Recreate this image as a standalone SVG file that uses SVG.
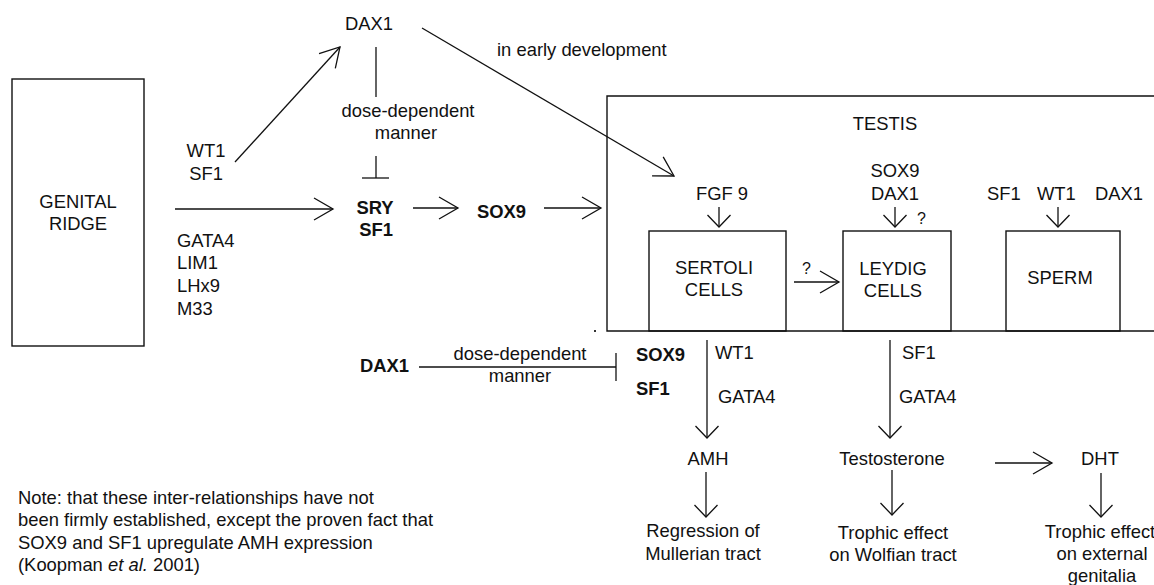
<svg xmlns="http://www.w3.org/2000/svg" width="1154" height="585" viewBox="0 0 1154 585">
<style>
text{font-family:"Liberation Sans",Arial,sans-serif;font-size:18.4px;fill:#111}
.b{font-weight:bold}
.m{text-anchor:middle}
.q{font-size:16px}
.box{fill:none;stroke:#111;stroke-width:1.4}
.ln{fill:none;stroke:#111;stroke-width:1.3}
.a{marker-end:url(#big)}
.s{marker-end:url(#sm)}
</style>
<defs>
<marker id="big" markerUnits="userSpaceOnUse" viewBox="-22 -14 24 28" refX="0" refY="0" markerWidth="24" markerHeight="28" orient="auto" overflow="visible">
<path d="M-19,-11 L0,0 L-19,11" fill="none" stroke="#111" stroke-width="1.3"/>
</marker>
<marker id="sm" markerUnits="userSpaceOnUse" viewBox="-15 -14 17 28" refX="0" refY="0" markerWidth="17" markerHeight="28" orient="auto" overflow="visible">
<path d="M-12,-11.5 L0,0 L-12,11.5" fill="none" stroke="#111" stroke-width="1.3"/>
</marker>
</defs>
<rect width="1154" height="585" fill="#fff"/>

<g id="genital-ridge">
<rect class="box" x="12" y="79" width="132" height="267"/>
<text class="m" x="78" y="208">GENITAL</text>
<text class="m" x="78" y="229.5">RIDGE</text>
</g>
<g id="wt1-sf1"><text class="m" x="206" y="157">WT1</text><text class="m" x="206" y="180">SF1</text></g>
<g id="factors">
<text x="177" y="247">GATA4</text><text x="177" y="269">LIM1</text><text x="177" y="292">LHx9</text><text x="177" y="315">M33</text>
</g>
<g id="dax1-top"><text x="345" y="30">DAX1</text></g>
<g id="dose-top"><text class="m" x="408" y="117">dose-dependent</text><text class="m" x="406" y="139">manner</text></g>
<g id="sry-sf1"><text class="b m" x="375" y="214">SRY</text><text class="b m" x="376" y="236">SF1</text></g>
<g id="sox9-top"><text class="b" x="477" y="218">SOX9</text></g>
<g id="early"><text x="497" y="56">in early development</text></g>

<g id="testis">
<path class="box" d="M1154,96 H607 V331 H1154"/>
<rect x="594" y="330" width="2" height="2" fill="#333"/>
<text class="m" x="885" y="130">TESTIS</text>
</g>
<g id="fgf9"><text class="m" x="722" y="200">FGF 9</text></g>
<g id="sox9-dax1"><text class="m" x="895" y="177">SOX9</text><text class="m" x="895" y="200">DAX1</text><text class="q" x="917" y="224">?</text></g>
<g id="sperm-factors"><text x="987" y="200">SF1</text><text x="1037" y="200">WT1</text><text x="1095" y="200">DAX1</text></g>
<g id="sertoli">
<rect class="box" x="649" y="231" width="137" height="100"/>
<text class="m" x="714" y="274">SERTOLI</text><text class="m" x="714" y="296">CELLS</text>
</g>
<g id="leydig">
<rect class="box" x="843" y="231" width="108" height="100"/>
<text class="m" x="893" y="275">LEYDIG</text><text class="m" x="893" y="297">CELLS</text>
</g>
<g id="q-sl"><text class="q" x="802" y="274">?</text></g>
<g id="sperm">
<rect class="box" x="1006" y="231" width="114" height="100"/>
<text class="m" x="1060" y="284">SPERM</text>
</g>

<g id="dax1-bottom"><text class="b" x="360" y="372">DAX1</text></g>
<g id="dose-bottom"><text class="m" x="520" y="360">dose-dependent</text><text class="m" x="520" y="382">manner</text></g>
<g id="sox9-sf1-bottom"><text class="b" x="636" y="361">SOX9</text><text class="b" x="636" y="395">SF1</text></g>
<g id="amh-factors"><text x="715" y="359">WT1</text><text x="718" y="403">GATA4</text></g>
<g id="testo-factors"><text x="902" y="359">SF1</text><text x="899" y="403">GATA4</text></g>
<g id="amh"><text class="m" x="708" y="465">AMH</text></g>
<g id="testosterone"><text class="m" x="892" y="465">Testosterone</text></g>
<g id="dht"><text class="m" x="1100" y="465">DHT</text></g>
<g id="regression"><text class="m" x="703" y="537">Regression of</text><text class="m" x="703" y="560">Mullerian tract</text></g>
<g id="wolfian"><text class="m" x="893" y="539">Trophic effect</text><text class="m" x="893" y="561">on Wolfian tract</text></g>
<g id="external"><text class="m" x="1100" y="538">Trophic effect</text><text class="m" x="1102" y="560">on external</text><text class="m" x="1102" y="582">genitalia</text></g>
<g id="note">
<text x="18" y="503.5">Note: that these inter-relationships have not</text>
<text x="18" y="526">been firmly established, except the proven fact that</text>
<text x="18" y="548.5">SOX9 and SF1 upregulate AMH expression</text>
<text x="18" y="571">(Koopman <tspan font-style="italic">et al.</tspan> 2001)</text>
</g>

<g id="connectors">
<line class="ln a" x1="175" y1="209" x2="333" y2="209"/>
<line class="ln a" x1="235" y1="162" x2="340" y2="47"/>
<line class="ln" x1="376" y1="47" x2="376" y2="97"/>
<line class="ln" x1="376" y1="156" x2="376" y2="178"/>
<line class="ln" x1="362" y1="178" x2="389" y2="178"/>
<line class="ln a" x1="413" y1="208" x2="458" y2="208"/>
<line class="ln a" x1="544" y1="208" x2="601" y2="208"/>
<line class="ln a" x1="422" y1="28" x2="674" y2="176"/>
<line class="ln s" x1="719" y1="207" x2="719" y2="227"/>
<line class="ln s" x1="895" y1="207" x2="895" y2="227"/>
<line class="ln s" x1="1058" y1="207" x2="1058" y2="227"/>
<line class="ln a" x1="794" y1="282" x2="839" y2="282"/>
<line class="ln" x1="419" y1="367" x2="616" y2="367"/>
<line class="ln" x1="616" y1="353" x2="616" y2="381"/>
<line class="ln s" x1="707" y1="340" x2="707" y2="438"/>
<line class="ln s" x1="890" y1="340" x2="890" y2="438"/>
<line class="ln s" x1="706" y1="472" x2="706" y2="517"/>
<line class="ln s" x1="892" y1="470" x2="892" y2="515"/>
<line class="ln s" x1="1101" y1="473" x2="1101" y2="517"/>
<line class="ln a" x1="995" y1="463" x2="1052" y2="463"/>
</g>
</svg>
